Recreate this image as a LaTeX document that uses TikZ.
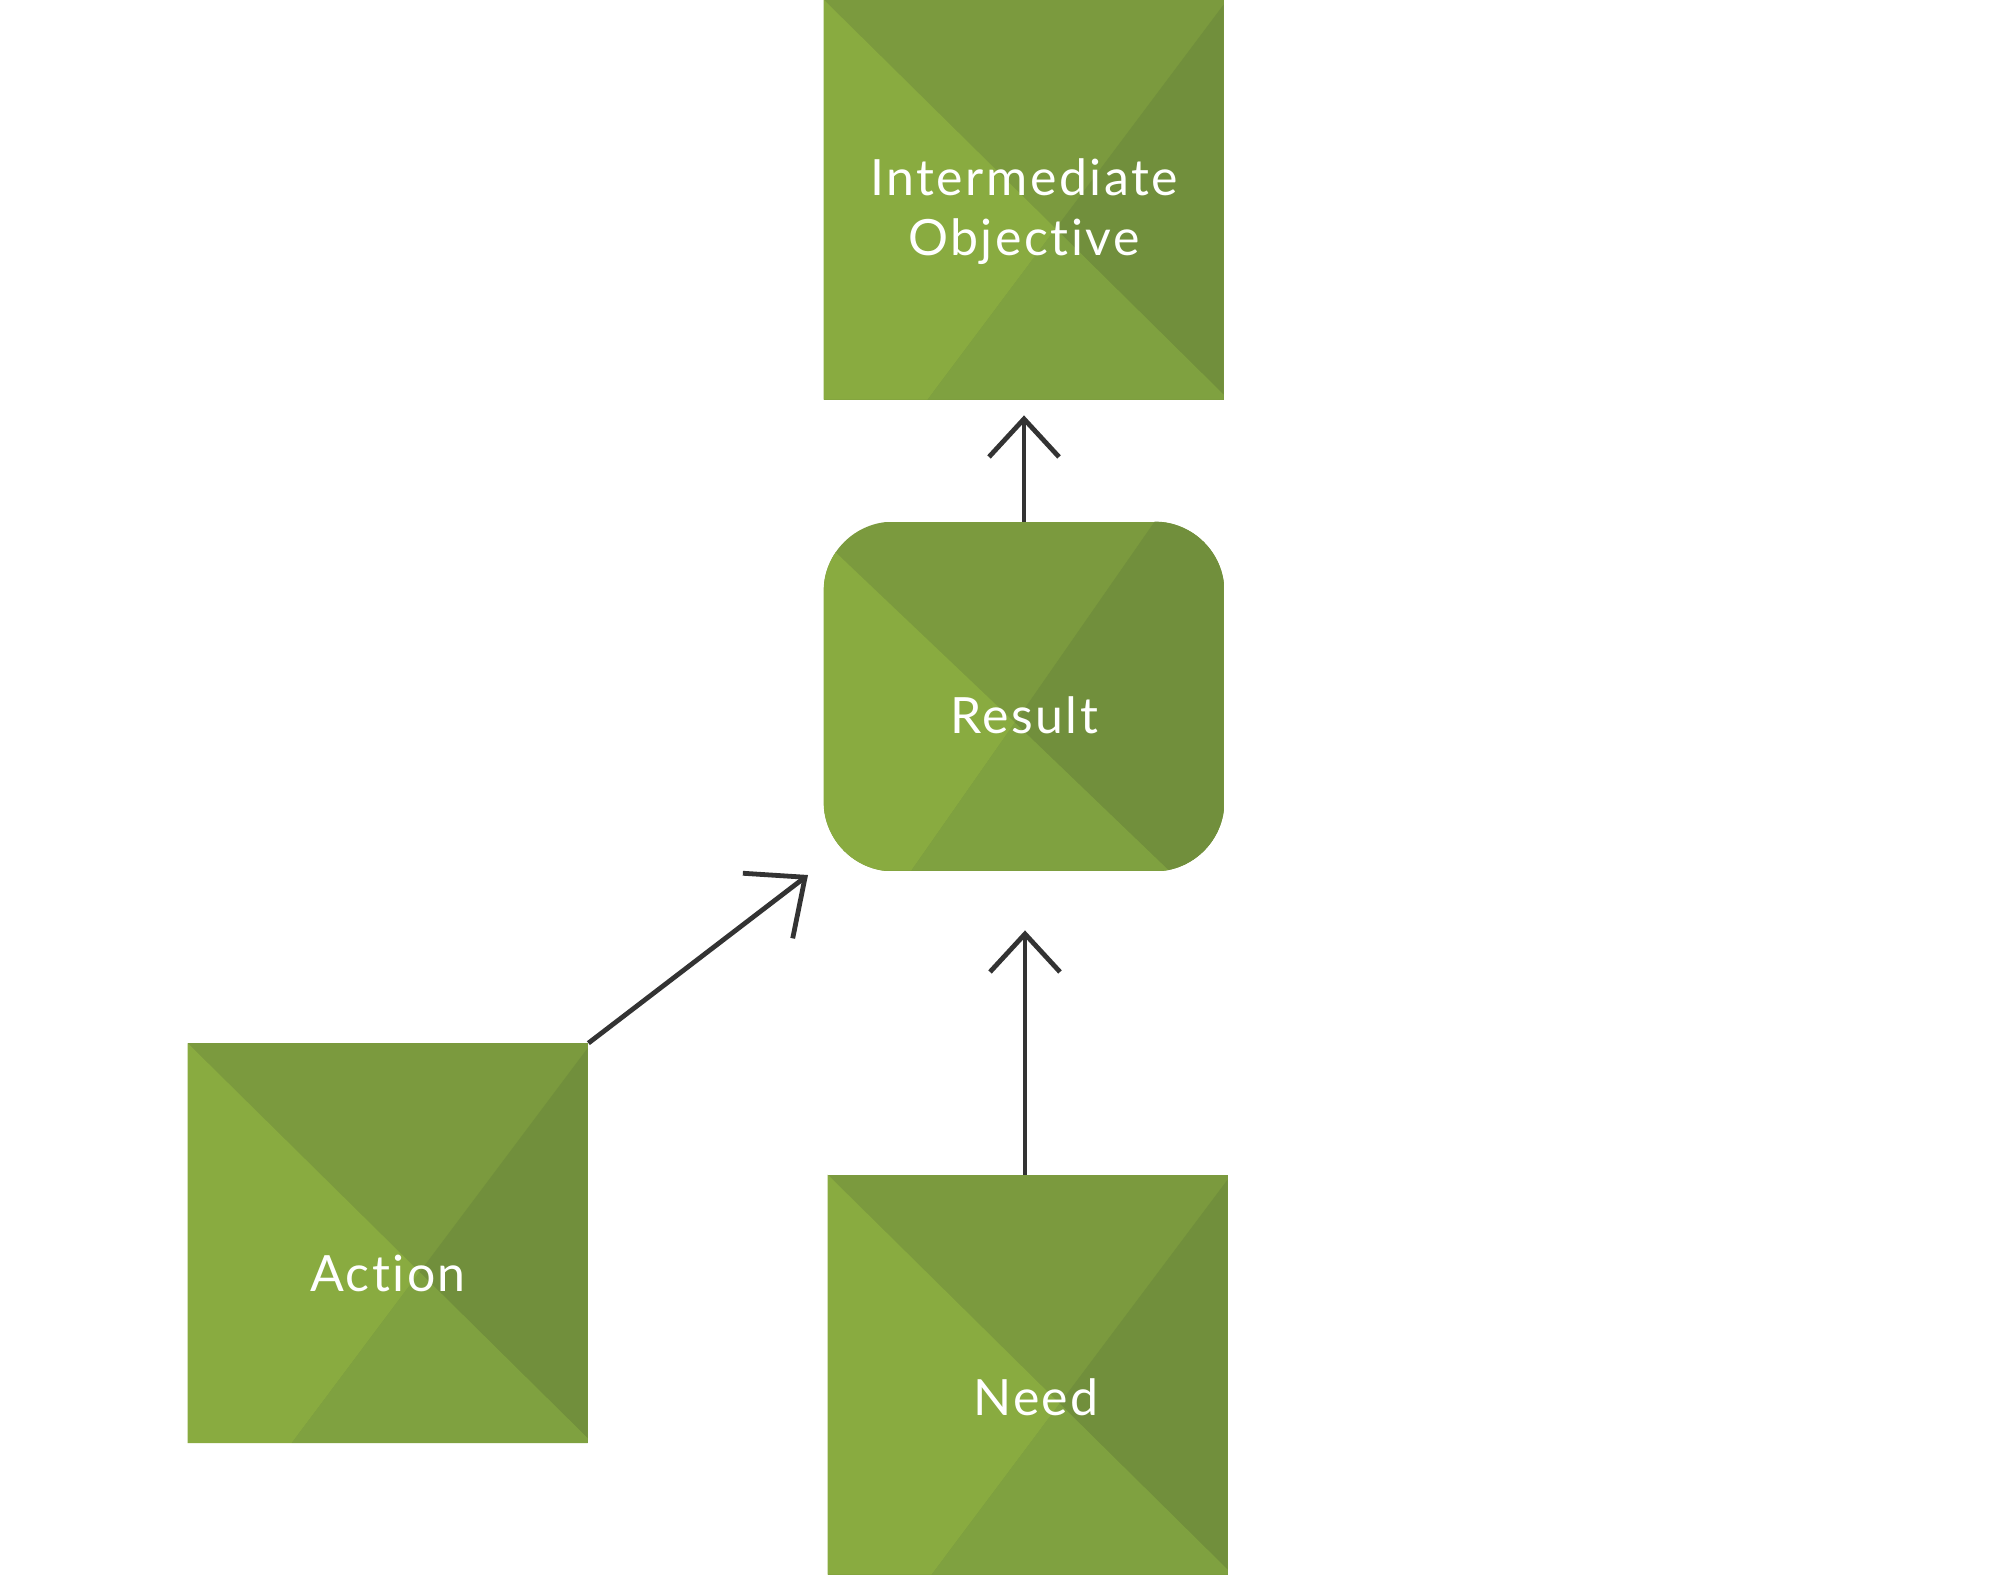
\documentclass[tikz,border=0pt]{standalone}
\usepackage{fontspec}
\setmainfont{Lato}[LetterSpace=5,Ligatures=CommonOff]
\usetikzlibrary{arrows.meta,backgrounds}
\definecolor{cleft}{HTML}{89AB40}
\definecolor{ctop}{HTML}{7B9A3E}
\definecolor{cright}{HTML}{718F3C}
\definecolor{cbottom}{HTML}{7FA140}
\definecolor{arrowgray}{HTML}{333333}
% four-facet fill of a 400x400 px square, origin at its north west corner
\newcommand\squarefill[1]{%
  \begin{scope}[shift={(#1.north west)}]
    \fill[ctop] (0,0) rectangle (400,400);
    \fill[cleft] (0,0) -- (232,229) -- (104,400) -- (0,400) -- cycle;
    \fill[cright] (400,5) -- (400,395) -- (232,229) -- cycle;
    \fill[cbottom] (104,400) -- (232,229) -- (400,395) -- (400,400) -- cycle;
  \end{scope}}
% four-facet fill of the 400x349 px rounded box
\newcommand\roundfill[1]{%
  \begin{scope}
    \clip[rounded corners=35pt] (#1.north west) rectangle (#1.south east);
    \begin{scope}[shift={(#1.north west)}]
      \fill[ctop] (0,0) rectangle (400,349);
      \fill[cleft] (0,19.3) -- (191.2,201) -- (87.7,349) -- (0,349) -- cycle;
      \fill[cright] (331,0) -- (400,0) -- (400,349) -- (345.3,349) -- (191.2,201) -- cycle;
      \fill[cbottom] (87.7,349) -- (191.2,201) -- (345.3,349) -- cycle;
    \end{scope}
  \end{scope}}
\tikzset{
  sqbox/.style={rectangle, minimum width=200pt, minimum height=200pt, inner sep=0pt,
    text=white, font=\fontsize{25pt}{30pt}\selectfont},
  rndbox/.style={rectangle, rounded corners=35pt, minimum width=200pt, minimum height=174.5pt,
    inner sep=0pt, text=white, font=\fontsize{25pt}{30pt}\selectfont},
  conn/.style={draw=arrowgray, line width=2.4pt},
  tipv/.style={-{Straight Barb[length=19pt,width=35pt]}},
  tipd/.style={-{Straight Barb[length=23.5pt,width=41pt]}},
}
\begin{document}
\begin{tikzpicture}[x=0.5pt,y=-0.5pt]
  \useasboundingbox (0,0) rectangle (2000,1575);
  \node[sqbox] (io) at (1024,200)
    {\raisebox{2.5pt}[0pt][0pt]{\begin{tabular}[t]{@{}c@{}}Intermediate\\Objective\end{tabular}}};
  \node[rndbox] (result) at (1024,696.5) {\raisebox{-18.25pt}[0pt][0pt]{Result}};
  \node[sqbox] (action) at (388,1243.5) {\raisebox{-24.1pt}[0pt][0pt]{Action}};
  \node[sqbox] (need) at (1028,1375) {\hspace*{8pt}\raisebox{-20pt}[0pt][0pt]{Need}};
  \begin{scope}[on background layer]
    \fill[white] (0,0) rectangle (2000,1575);
    \squarefill{io}
    \roundfill{result}
    \squarefill{action}
    \squarefill{need}
  \end{scope}
  \coordinate (actiontip) at (808,875);
  \draw[conn, tipv, shorten >=7.5pt] (result.north) -- (io.south);
  \draw[conn, tipd] (action.north east) -- (actiontip);
  \draw[conn, tipv, shorten >=29.5pt] ([xshift=-1.5pt]need.north) -- ([xshift=-1.5pt]need.north |- result.south);
\end{tikzpicture}
\end{document}
